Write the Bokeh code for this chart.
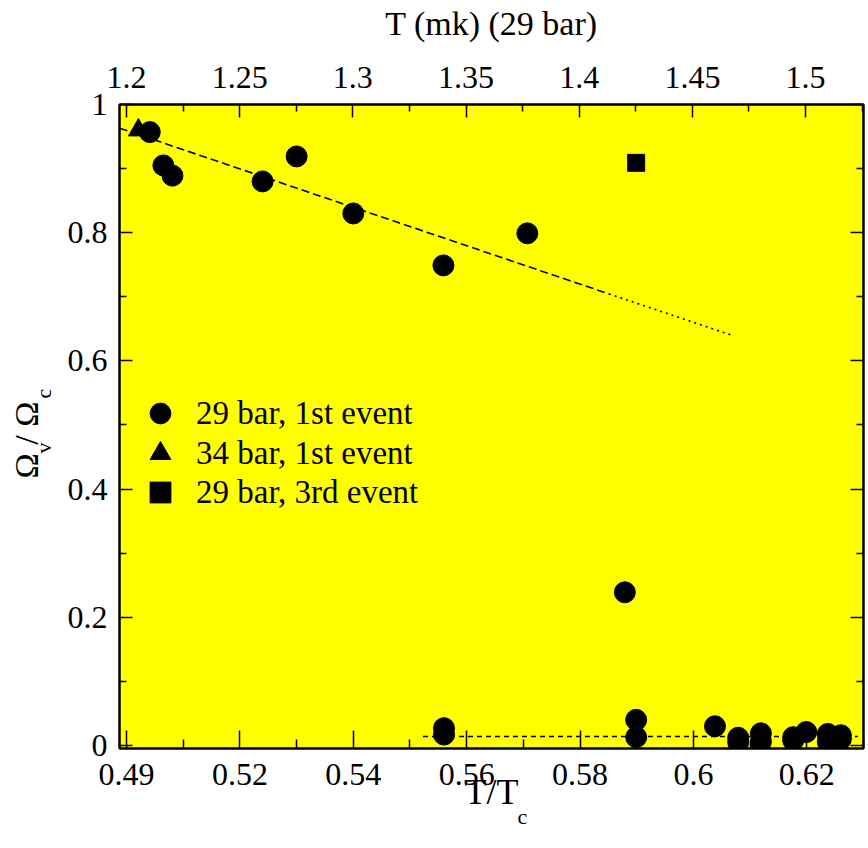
from bokeh.plotting import figure
from bokeh.models import (Range1d, LinearAxis, FixedTicker, Legend, LegendItem,
                          CustomJSTickFormatter, Title)
from bokeh.embed import file_html
from bokeh.resources import INLINE

# --- measurements -----------------------------------------------------------
# 29 bar, first vortex-formation event: reduced temperature vs. Omega_v/Omega_c
ev1_29bar_t = [0.5041, 0.5065, 0.5081, 0.5240, 0.5300, 0.5400, 0.5559, 0.5707,
               0.5560, 0.5560, 0.5879, 0.5899, 0.5899, 0.6038, 0.6079, 0.6079,
               0.6119, 0.6119, 0.6176, 0.6176, 0.6199, 0.6237, 0.6237, 0.6260,
               0.6260]
ev1_29bar_w = [0.957, 0.905, 0.889, 0.880, 0.919, 0.830, 0.749, 0.799,
               0.027, 0.017, 0.239, 0.040, 0.013, 0.030, 0.012, 0.005,
               0.019, 0.006, 0.008, 0.013, 0.021, 0.018, 0.006, 0.016,
               0.010]

# 34 bar, first event
ev1_34bar_t = [0.5021]
ev1_34bar_w = [0.960]

# 29 bar, third event
ev3_29bar_t = [0.5899]
ev3_29bar_w = [0.909]

# guide lines: linear trend (dashed, dotted continuation) and low plateau
trend_t = [0.4988, 0.5851]
trend_w = [0.963, 0.7045]
trend_ext_t = [0.5851, 0.6066]
trend_ext_w = [0.7045, 0.6405]
floor_t = [0.5523, 0.6290]
floor_w = [0.014, 0.014]

# axis ticks
x_ticks = [0.50, 0.52, 0.54, 0.56, 0.58, 0.60, 0.62]
x_tick_labels = ["0.49", "0.52", "0.54", "0.56", "0.58", "0.6", "0.62"]
x_minor = [0.51, 0.53, 0.55, 0.57, 0.59, 0.61, 0.63]
y_ticks = [0.0, 0.2, 0.4, 0.6, 0.8, 1.0]
y_tick_labels = ["0", "0.2", "0.4", "0.6", "0.8", "1"]
y_minor = [0.1, 0.3, 0.5, 0.7, 0.9]
top_ticks = [1.20, 1.25, 1.30, 1.35, 1.40, 1.45, 1.50]
top_tick_labels = ["1.2", "1.25", "1.3", "1.35", "1.4", "1.45", "1.5"]
top_minor = [1.225, 1.275, 1.325, 1.375, 1.425, 1.475, 1.525]

legend_labels = ["29 bar, 1st event", "34 bar, 1st event", "29 bar, 3rd event"]

NB = "\u00a0"  # non-collapsing space used to spread the subscripts

# --- figure -----------------------------------------------------------------
FONT = "Liberation Serif"
TICK_FS = "32px"

p = figure(width=868, height=848, output_backend="svg", toolbar_location=None,
           x_range=Range1d(0.49876, 0.6300), y_range=Range1d(-0.0047, 1.0),
           x_axis_location=None, y_axis_location=None,
           min_border_left=119, min_border_right=5,
           min_border_top=104, min_border_bottom=100)
p.extra_x_ranges = {"mk": Range1d(1.1969, 1.5256)}
p.background_fill_color = "#ffff00"
p.border_fill_color = "white"
p.outline_line_color = "black"
p.outline_line_width = 2
p.xgrid.visible = False
p.ygrid.visible = False


def style_axis(ax, major_in, minor_in):
    ax.axis_line_color = "black"
    ax.axis_line_width = 2
    ax.major_tick_out = 0
    ax.minor_tick_out = 0
    ax.major_tick_in = major_in
    ax.minor_tick_in = minor_in
    ax.major_tick_line_width = 1.5
    ax.minor_tick_line_width = 1.5
    ax.major_label_text_font = FONT
    ax.major_label_text_font_size = TICK_FS
    ax.major_label_text_color = "black"
    ax.axis_label_text_font = FONT
    ax.axis_label_text_font_style = "normal"
    ax.axis_label_text_color = "black"


# bottom axis: T/T_c (the subscript follows as a small title below)
bottom = LinearAxis(ticker=FixedTicker(ticks=x_ticks, minor_ticks=x_minor),
                    major_label_overrides=dict(zip(x_ticks, x_tick_labels)),
                    axis_label="T/T")
style_axis(bottom, 18, 9)
bottom.major_label_standoff = 15
bottom.axis_label_text_font_size = "36px"
bottom.axis_label_standoff = -16
p.add_layout(bottom, "below")

top = LinearAxis(x_range_name="mk",
                 ticker=FixedTicker(ticks=top_ticks, minor_ticks=top_minor),
                 major_label_overrides=dict(zip(top_ticks, top_tick_labels)),
                 axis_label="T (mk) (29 bar)")
style_axis(top, 13, 7)
top.major_label_standoff = 17
top.axis_label_text_font_size = "34px"
top.axis_label_standoff = 22
p.add_layout(top, "above")

# left axis: its label carries the subscripts v and c of Omega_v/Omega_c
left = LinearAxis(ticker=FixedTicker(ticks=y_ticks, minor_ticks=y_minor),
                  major_label_overrides=dict(zip(y_ticks, y_tick_labels)),
                  axis_label=NB * 2 + "v" + NB * 8 + "c")
style_axis(left, 13, 7)
left.major_label_standoff = 12
left.axis_label_text_font_size = "22px"
left.axis_label_standoff = 9
p.add_layout(left, "left")

right = LinearAxis(ticker=FixedTicker(ticks=y_ticks, minor_ticks=y_minor),
                   formatter=CustomJSTickFormatter(code="return ''"))
style_axis(right, 13, 7)
right.major_label_text_font_size = "1px"
right.major_label_standoff = 0
p.add_layout(right, "right")

# main letters of the y title, pulled in over the subscript row
p.add_layout(Title(text="\u03a9" + NB + "/" + NB + "\u03a9", align="left",
                   offset=270, vertical_align="bottom", standoff=-35,
                   text_font=FONT, text_font_size="34px",
                   text_font_style="normal", text_color="black"), "left")

# subscript c of T/T_c
p.add_layout(Title(text="c", align="left", offset=398, vertical_align="top",
                   standoff=-22, text_font=FONT, text_font_size="22px",
                   text_font_style="normal", text_color="black"), "below")

# --- data -------------------------------------------------------------------
r_circ = p.scatter(ev1_29bar_t, ev1_29bar_w, marker="circle", size=21,
                   fill_color="black", line_color="black")
r_tri = p.scatter(ev1_34bar_t, ev1_34bar_w, marker="triangle", size=20,
                  fill_color="black", line_color="black")
r_sq = p.scatter(ev3_29bar_t, ev3_29bar_w, marker="square", size=17,
                 fill_color="black", line_color="black")

p.line(trend_t, trend_w, line_color="black", line_width=1.6, line_dash="8 4")
p.line(trend_ext_t, trend_ext_w, line_color="black", line_width=1.6,
       line_dash="2 4")
p.line(floor_t, floor_w, line_color="black", line_width=1.6, line_dash="5 4")

# --- legend: one entry per box so rows sit 40 px apart ------------------------
for label, rend, y_off in zip(legend_labels, [r_circ, r_tri, r_sq],
                              [309, 269, 230]):
    p.add_layout(Legend(
        items=[LegendItem(label=label, renderers=[rend])],
        location=(15, y_off), glyph_width=52, glyph_height=52,
        padding=0, margin=0, label_standoff=10,
        background_fill_alpha=0, border_line_color=None,
        label_text_font=FONT, label_text_font_size="33px",
        label_text_color="black"))

open("out.html", "w").write(file_html(p, INLINE))
